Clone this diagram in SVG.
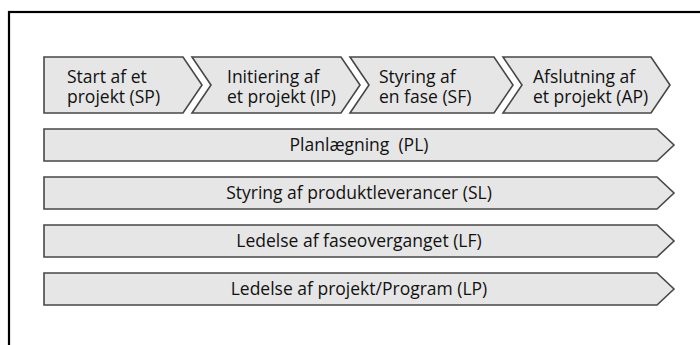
<svg xmlns="http://www.w3.org/2000/svg" width="700" height="345" viewBox="0 0 700 345">
<style>
.sh{fill:#e6e6e6;stroke:#474747;stroke-width:1.6;stroke-linejoin:miter}
.t{font-family:"Open Sans","Noto Sans",sans-serif;font-size:17.5px;fill:#111}
.c{text-anchor:middle}
</style>
<rect x="0" y="0" width="700" height="345" fill="#fff"/>
<rect id="frame" x="9" y="12" width="720" height="360" fill="none" stroke="#000" stroke-width="2.2"/>
<g id="connectors"/>
<g id="SP">
<polygon class="sh" points="44,57 183,57 202,85 183,113 44,113"/>
<text class="t" x="67" y="83">Start af et</text>
<text class="t" x="67" y="103">projekt (SP)</text>
</g>
<g id="IP">
<polygon class="sh" points="192,57 341,57 360,85 341,113 192,113 211,85"/>
<text class="t" x="227" y="83">Initiering af</text>
<text class="t" x="227" y="103">et projekt (IP)</text>
</g>
<g id="SF">
<polygon class="sh" points="350,57 494,57 513,85 494,113 350,113 369,85"/>
<text class="t" x="379" y="83">Styring af</text>
<text class="t" x="379" y="103">en fase (SF)</text>
</g>
<g id="AP">
<polygon class="sh" points="503,57 651,57 670,85 651,113 503,113 522,85"/>
<text class="t" x="533" y="83">Afslutning af</text>
<text class="t" x="533" y="103">et projekt (AP)</text>
</g>
<g id="PL">
<polygon class="sh" points="44,129 657,129 674,145 657,161 44,161"/>
<text class="t c" x="359" y="151" xml:space="preserve">Planlægning  (PL)</text>
</g>
<g id="SL">
<polygon class="sh" points="44,177 657,177 674,193 657,209 44,209"/>
<text class="t c" x="359" y="199">Styring af produktleverancer (SL)</text>
</g>
<g id="LF">
<polygon class="sh" points="44,225 657,225 674,241 657,257 44,257"/>
<text class="t c" x="359" y="247">Ledelse af faseoverganget (LF)</text>
</g>
<g id="LP">
<polygon class="sh" points="44,273 657,273 674,289 657,305 44,305"/>
<text class="t c" x="359" y="295">Ledelse af projekt/Program (LP)</text>
</g>
</svg>
